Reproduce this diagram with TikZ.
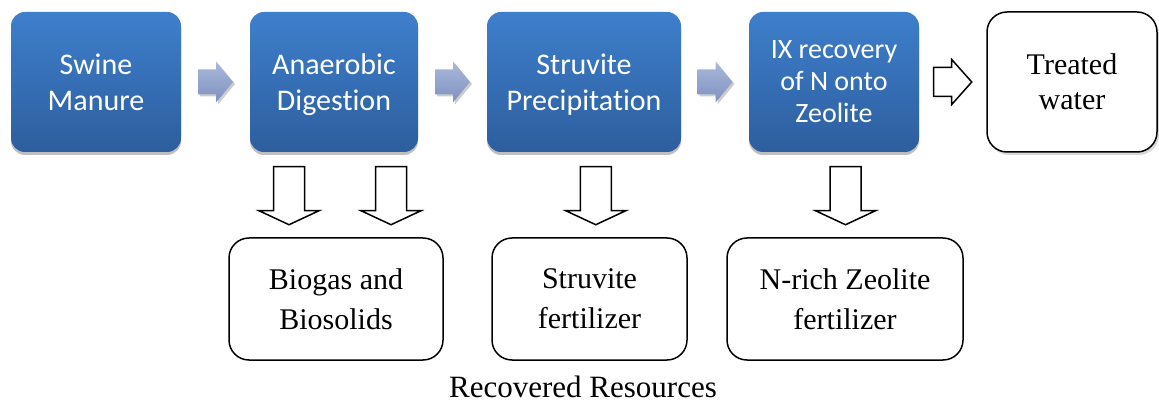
\documentclass[tikz,border=0pt]{standalone}
\usepackage{fontspec}
\setmainfont{Liberation Serif}
\newfontfamily\boxfont[Ligatures={NoCommon}]{Carlito}
\usetikzlibrary{calc,shadows}
\definecolor{boxtop}{RGB}{62,127,204}
\definecolor{boxbot}{RGB}{45,94,158}
\definecolor{arrtop}{RGB}{170,186,220}
\definecolor{arrbot}{RGB}{126,145,190}
% block arrow pointing east: [style](centre)(length:head length:shaft width:head width)
\def\blockarrow[#1](#2)(#3:#4:#5:#6){\path[#1] (#2) ++(-#3/2,-#5/2) -- ++(#3-#4,0) -- ++(0,#5/2-#6/2) -- ++(#4,#6/2) -- ++(-#4,#6/2) -- ++(0,#5/2-#6/2) -- ++(-#3+#4,0) -- cycle;}
\tikzset{
  stepbox/.style={rounded corners=14pt, minimum height=140pt, text=white, align=center,
    top color=boxtop, bottom color=boxbot, text depth=0pt,
    drop shadow={shadow xshift=0pt, shadow yshift=-3pt, opacity=.25, fill=black},
    font=\boxfont\fontsize{30}{36}\selectfont},
  outbox/.style={draw, line width=1.5pt, rounded corners=20pt, fill=white, align=center,
    font=\fontsize{30}{40}\selectfont},
  bluearrow/.style={top color=arrtop, bottom color=arrbot,
    drop shadow={shadow xshift=2pt, shadow yshift=-2pt, opacity=.2, fill=black}},
  whitearrow/.style={draw, line width=1.5pt, fill=white, line join=miter}
}
\begin{document}
\begin{tikzpicture}[x=1pt, y=-1pt]
			%%%%% START %%%%%
			\useasboundingbox (0,0) rectangle (1159,403);
			
			\node[stepbox, minimum width=170pt] (swine) at (96,82) {Swine\\Manure};
			\node[stepbox, minimum width=168pt] (digest) at (334,82) {Anaerobic\\Digestion};
			\node[stepbox, minimum width=194pt] (precip) at (584,82) {Struvite\\Precipitation};
			\node[stepbox, minimum width=170pt, font=\boxfont\fontsize{28}{32}\selectfont] (ixzeo) at (834,82) {IX recovery\\of N onto\\Zeolite};
			\node[outbox, minimum width=170pt, minimum height=140pt, font=\fontsize{30}{35}\selectfont,
			  drop shadow={shadow xshift=2pt, shadow yshift=-3pt, opacity=.15, fill=black}] (water) at (1072,82) {Treated\\water};
			
			\node[outbox, minimum width=214pt, minimum height=122pt] (biogas) at (336,299) {Biogas and\\Biosolids};
			\node[outbox, minimum width=195pt, minimum height=122pt] (struv) at (589.5,299) {Struvite\\fertilizer};
			\node[outbox, minimum width=236pt, minimum height=122pt] (nrich) at (845,299) {N-rich Zeolite\\fertilizer};
			
			\node[font=\fontsize{31}{36}\selectfont, inner sep=0pt, anchor=base] (recov) at (583,397) {Recovered Resources};
			
			% arrows along the process
			\blockarrow[bluearrow]($(swine.east)!.5!(digest.west)$)(35:17:25:41);
			\blockarrow[bluearrow]($(digest.east)!.5!(precip.west)$)(35:17:25:41);
			\blockarrow[bluearrow]($(precip.east)!.5!(ixzeo.west)$)(35:17:25:41);
			\blockarrow[whitearrow]($(ixzeo.east)!.5!(water.west)$)(38:20:29:45);
			
			% arrows down to the resources
			\coordinate (gasarr) at ($(digest.south)!.5!(biogas.north)+(-46,1)$);
			\coordinate (solarr) at ($(digest.south)!.5!(biogas.north)+(56,1)$);
			\coordinate (struvarr) at ($(precip.south)!.5!(struv.north)+(9,1)$);
			\coordinate (zeoarr) at ($(ixzeo.south)!.5!(nrich.north)+(6,1)$);
			\blockarrow[whitearrow, rotate=-90](gasarr)(58:14:31:60);
			\blockarrow[whitearrow, rotate=-90](solarr)(58:14:31:60);
			\blockarrow[whitearrow, rotate=-90](struvarr)(58:14:31:60);
			\blockarrow[whitearrow, rotate=-90](zeoarr)(58:14:31:60);
			
			%%%%% END %%%%%
\end{tikzpicture}
\end{document}
